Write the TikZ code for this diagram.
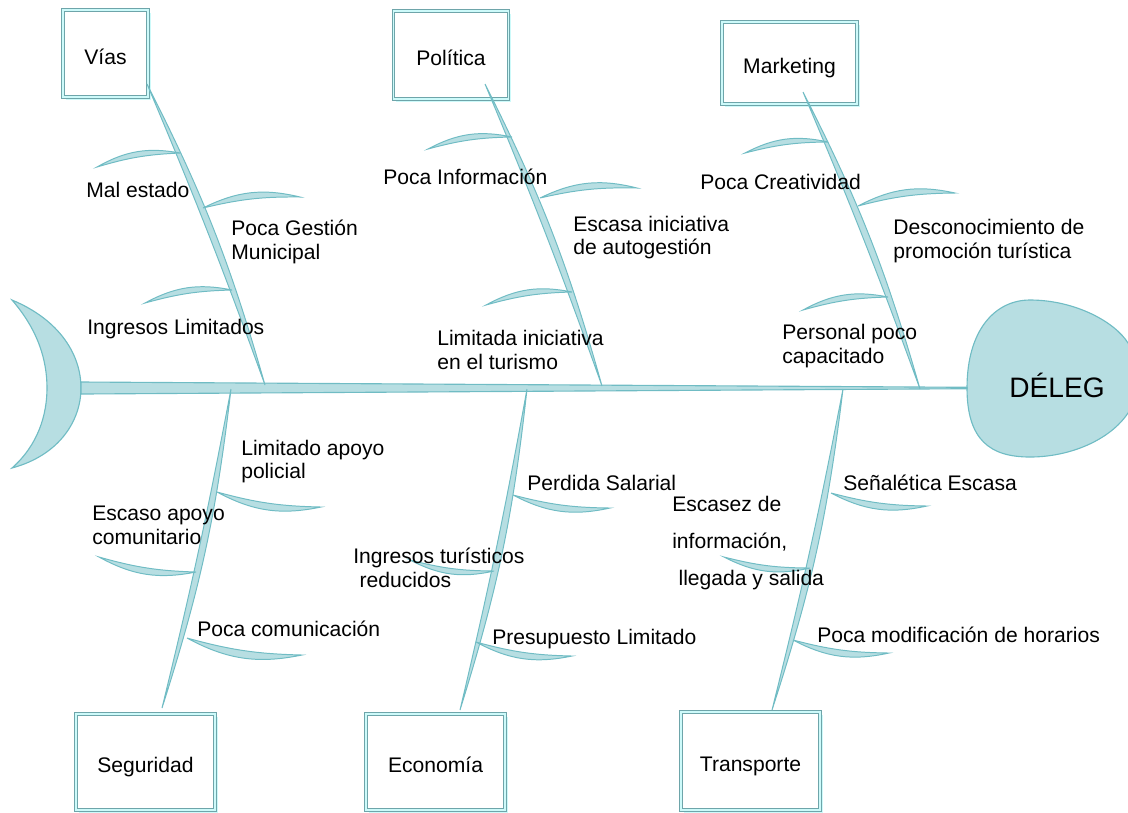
\documentclass[tikz,border=0pt]{standalone}
\usepackage{fontspec}
\setmainfont{Liberation Sans}
\usetikzlibrary{shadows}

\definecolor{fishfill}{RGB}{183,222,226}
\definecolor{fishline}{RGB}{112,188,196}
\definecolor{boxline}{RGB}{110,165,170}
\definecolor{boxglow}{RGB}{205,250,250}

\tikzset{
  fish/.style={draw=fishline, fill=fishfill, line width=0.8pt},
  bone/.style={draw=fishline, fill=fishfill, line width=0.7pt},
  cause/.style={draw=boxline, fill=white, line width=0.7pt, double=boxglow,
    double distance=1pt, text height=1.75em, text depth=0.25em,
    drop shadow={shadow xshift=2pt, shadow yshift=-2pt, fill=boxglow, opacity=1}},
  label/.style={anchor=west, inner sep=0pt, align=left},
}

\begin{document}
\begin{tikzpicture}[x=0.025cm, y=-0.025cm,
  every node/.style={font=\fontsize{15}{17}\selectfont}]
  \useasboundingbox (0,0) rectangle (1128,812);

  % Cola y cabeza
  \draw[fish] (12,300) .. controls (60,320) and (81,355) .. (81,388)
    .. controls (81,420) and (60,455) .. (12,468)
    .. controls (38,445) and (47,415) .. (47,388)
    .. controls (47,360) and (38,330) .. (12,300) -- cycle;
  \draw[fish] (967,388) .. controls (967,330) and (995,300) .. (1030,300)
    .. controls (1075,300) and (1115,322) .. (1128,343)
    .. controls (1140,365) and (1140,395) .. (1128,413)
    .. controls (1110,440) and (1070,457) .. (1030,457)
    .. controls (990,457) and (967,440) .. (967,388) -- cycle;
  \node (deleg) at (1057,385) {\fontsize{20}{24}\selectfont DÉLEG};

  % Espina central
  \coordinate (tail) at (81,388);
  \coordinate (head) at (967,388);
  \draw[fish] (81,382) -- (967,387.3) -- (967,388.7) -- (81,394) -- cycle;

  % Causas
  \node[cause, minimum width=2.125cm, minimum height=2.175cm] (vias) at (105.5,53.5) {Vías};
  \node[cause, minimum width=2.875cm, minimum height=2.2cm] (politica) at (451,55) {Política};
  \node[cause, minimum width=3.375cm, minimum height=2.05cm] (marketing) at (789.5,63) {Marketing};
  \node[cause, minimum width=3.475cm, minimum height=2.4cm] (seguridad) at (145.5,762) {Seguridad};
  \node[cause, minimum width=3.475cm, minimum height=2.4cm] (economia) at (435.5,762) {Economía};
  \node[cause, minimum width=3.475cm, minimum height=2.45cm] (transporte) at (750.5,761) {Transporte};

  % Espinas principales
  \coordinate (viasA) at (147,84);    \coordinate (viasB) at (265,385);
  \coordinate (polA) at (485,84);     \coordinate (polB) at (602,386);
  \coordinate (mktA) at (803,92);     \coordinate (mktB) at (920,389);
  \coordinate (segA) at (231,389);    \coordinate (segB) at (162,708);
  \coordinate (ecoA) at (527,389);    \coordinate (ecoB) at (460,710);
  \coordinate (traA) at (843,389);    \coordinate (traB) at (772,710);
  \foreach \r in {vias,pol,mkt,seg,eco,tra}
    \draw[bone] (\r A) to[bend left=5.5] (\r B) to[bend right=1.5] (\r A);

  % Espinas menores arriba
  \draw[bone] (180,153) to[bend right=20] (97,167) to[bend left=7] (180,153);
  \draw[bone] (203,208) to[bend left=20] (300,197) to[bend right=7] (203,208);
  \draw[bone] (232,290) to[bend right=20] (145,303) to[bend left=7] (232,290);
  \draw[bone] (512,137) to[bend right=20] (428,149) to[bend left=7] (512,137);
  \draw[bone] (540,198) to[bend left=20] (637,188) to[bend right=7] (540,198);
  \draw[bone] (572,292) to[bend right=20] (486,305) to[bend left=7] (572,292);
  \draw[bone] (828,142) to[bend right=20] (745,153) to[bend left=7] (828,142);
  \draw[bone] (858,206) to[bend left=20] (955,193) to[bend right=7] (858,206);
  \draw[bone] (888,297) to[bend right=20] (803,310) to[bend left=7] (888,297);

  % Espinas menores abajo
  \draw[bone] (217,492) to[bend right=20] (321,507) to[bend left=7] (217,492);
  \draw[bone] (196,572) to[bend left=20] (99,557) to[bend right=7] (196,572);
  \draw[bone] (187,638) to[bend right=20] (302,655) to[bend left=7] (187,638);
  \draw[bone] (513,495) to[bend right=20] (610,508) to[bend left=7] (513,495);
  \draw[bone] (494,571) to[bend left=20] (410,560) to[bend right=7] (494,571);
  \draw[bone] (476,642) to[bend right=20] (572,656) to[bend left=7] (476,642);
  \draw[bone] (831,493) to[bend right=20] (927,506) to[bend left=7] (831,493);
  \draw[bone] (810,568) to[bend left=20] (724,557) to[bend right=7] (810,568);
  \draw[bone] (793,640) to[bend right=20] (889,653) to[bend left=7] (793,640);

  % Textos
  \node[label] (malestado) at (86,190) {Mal estado};
  \node[label] (gestion) at (231,241.5) {Poca Gestión\\Municipal};
  \node[label] (ingresos) at (87,329) {Ingresos Limitados};
  \node[label] (informacion) at (383,177) {Poca Información};
  \node[label] (autogestion) at (573,237.5) {Escasa iniciativa\\de autogestión};
  \node[label] (turismo) at (437,349.5) {Limitada iniciativa\\en el turismo};
  \node[label] (creatividad) at (700,182) {Poca Creatividad};
  \node[label] (promocion) at (893,241) {Desconocimiento de\\promoción turística};
  \node[label] (personal) at (782,346) {Personal poco\\capacitado};
  \node[label] (policial) at (241,461.5) {Limitado apoyo\\policial};
  \node[label] (comunitario) at (92,525) {Escaso apoyo\\comunitario};
  \node[label] (comunicacion) at (197,629) {Poca comunicación};
  \node[label] (salarial) at (527,483) {Perdida Salarial};
  \node[label] (reducidos) at (353,567.5) {Ingresos turísticos\\\hspace*{0.3em}reducidos};
  \node[label] (presupuesto) at (492,639) {Presupuesto Limitado};
  \node[label] (senaletica) at (843,483) {Señalética Escasa};
  \node[label, font=\fontsize{15}{26}\selectfont] (escasez) at (672,543)
    {Escasez de\\información,\\\hspace*{0.3em}llegada y salida};
  \node[label] (horarios) at (817,635) {Poca modificación de horarios};
\end{tikzpicture}
\end{document}
